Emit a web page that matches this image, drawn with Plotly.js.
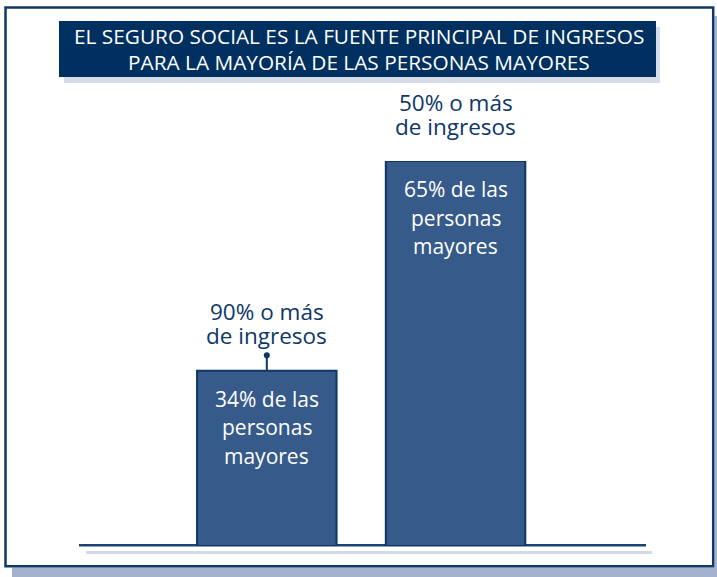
<!DOCTYPE html>
<html><head><meta charset="utf-8">
<script src="https://cdn.plot.ly/plotly-3.0.1.min.js"></script>
<style>html,body{margin:0;padding:0;background:#fff}</style>
</head><body><div id="chart" style="width:717px;height:577px"></div>
<script>
// ---- data ----
const categories = ["90% o más de ingresos", "50% o más de ingresos"];
const shareOfOlderPeople = [34, 65];            // % of older people (text in bars)
const barHeight = [45.5, 100];                   // drawn bar height (relative)
const topLabelLine1 = ["90% o más", "50% o más"];
const topLabelLine2 = ["de ingresos", "de ingresos"];
const barTextLines = ["de las", "personas", "mayores"];
const titleLines = ["EL SEGURO SOCIAL ES LA FUENTE PRINCIPAL DE INGRESOS",
                    "PARA LA MAYORÍA DE LAS PERSONAS MAYORES"];

// ---- layout helpers ----
const W = 717, H = 577;
const M = {l: 79, r: 71, t: 161, b: 31};
const PW = W - M.l - M.r, PH = H - M.t - M.b;
const px = x => (x - M.l) / PW;
const py = y => (H - M.b - y) / PH;
const pxPerUnit = PH / 100;

const NAVY = '#0d3767';
const BAR = '#365a89';
const BARLINE = '#0c3767';

const shapes = [];
function rectPx(x0, y0, x1, y1, fill, layer) {
  shapes.push({type: 'rect', xref: 'paper', yref: 'paper', x0: px(x0), x1: px(x1), y0: py(y1), y1: py(y0),
    fillcolor: fill, line: {width: 0}, layer: layer || 'below'});
}
// frame shadows
rectPx(12, 567.5, 717, 577, '#a4b2cd');
rectPx(714.5, 16, 717, 577, '#a4b2cd');
// frame
shapes.push({type: 'rect', xref: 'paper', yref: 'paper', x0: px(5.5), x1: px(713.2), y0: py(566.2), y1: py(7.5),
  fillcolor: 'rgba(0,0,0,0)', line: {color: '#12386a', width: 2.5}, layer: 'below'});
// title box + shadow
rectPx(64, 27, 660, 83, '#d6dce8');
rectPx(59, 21, 656, 77, '#00305f');
// baseline shadow + baseline
shapes.push({type: 'line', xref: 'paper', yref: 'paper', x0: px(86), x1: px(652), y0: py(552.5), y1: py(552.5),
  line: {color: '#d3dae6', width: 3}, layer: 'below'});
shapes.push({type: 'line', xref: 'paper', yref: 'paper', x0: px(79), x1: px(646), y0: py(545.3), y1: py(545.3),
  line: {color: '#1b4374', width: 2.5}, layer: 'below'});

const annotations = [];
titleLines.forEach((t, i) => {
  annotations.push({xref: 'paper', yref: 'paper', x: px(359), y: py([36, 62][i]), text: t, showarrow: false,
    xanchor: 'center', yanchor: 'middle', font: {family: 'Open Sans', size: 20.8, color: '#ffffff'}});
});

const dotOffset = 15.5 / pxPerUnit;
categories.forEach((c, i) => {
  // connector line
  shapes.push({type: 'line', xref: 'x', yref: 'y', x0: c, x1: c, y0: barHeight[i], y1: barHeight[i] + dotOffset,
    line: {color: NAVY, width: 2}, layer: 'above'});
  // labels above
  annotations.push({x: c, y: barHeight[i], yshift: 59, text: topLabelLine1[i], showarrow: false,
    yanchor: 'middle', font: {family: 'Open Sans', size: 22.5, color: NAVY}});
  annotations.push({x: c, y: barHeight[i], yshift: 35, text: topLabelLine2[i], showarrow: false,
    yanchor: 'middle', font: {family: 'Open Sans', size: 22.5, color: NAVY}});
  // text in bar
  const lines = [shareOfOlderPeople[i] + '% ' + barTextLines[0], barTextLines[1], barTextLines[2]];
  lines.forEach((t, j) => {
    annotations.push({x: c, y: barHeight[i], yshift: -28 - 28.5 * j, text: t, showarrow: false,
      yanchor: 'middle', font: {family: 'Open Sans', size: 21, color: '#ffffff'}});
  });
});

const traces = [
  {type: 'bar', x: categories, y: barHeight, width: 0.739,
   marker: {color: BAR, line: {color: BARLINE, width: 2}}, hoverinfo: 'skip', cliponaxis: false},
  {type: 'scatter', mode: 'markers', x: categories, y: barHeight.map(v => v + dotOffset),
   marker: {color: NAVY, size: 6}, hoverinfo: 'skip', cliponaxis: false}
];

const layout = {
  width: W, height: H, margin: M, showlegend: false,
  paper_bgcolor: '#ffffff', plot_bgcolor: 'rgba(0,0,0,0)',
  xaxis: {type: 'category', range: [-0.995, 2.009], visible: false, fixedrange: true},
  yaxis: {range: [0, 100], visible: false, fixedrange: true},
  shapes: shapes, annotations: annotations
};
Plotly.newPlot('chart', traces, layout, {displayModeBar: false, staticPlot: true});
</script></body></html>
